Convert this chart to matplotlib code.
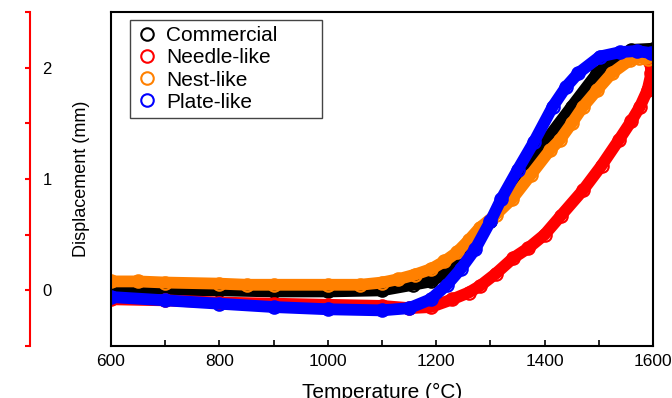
import matplotlib
matplotlib.use('Agg')
import matplotlib.pyplot as plt
from matplotlib.ticker import MultipleLocator, FixedLocator

plt.rcParams['font.family'] = ['Liberation Sans', 'DejaVu Sans']

# sample names and colours
labels = ['Commercial', 'Needle-like', 'Nest-like', 'Plate-like']
colors = ['#000000', '#ff0000', '#ff8000', '#0000ff']

# temperature (deg C) / displacement (mm)
t_comm = [600, 700, 800, 900, 1000, 1100, 1157, 1190, 1220, 1250, 1275, 1300, 1327,
          1355, 1385, 1408, 1450, 1497, 1535, 1560, 1600]
d_comm = [0.01, 0.0, 0.0, -0.01, -0.01, 0.0, 0.05, 0.08, 0.16, 0.30, 0.45, 0.62, 0.82,
          1.02, 1.24, 1.38, 1.65, 1.95, 2.10, 2.16, 2.17]

t_needle = [600, 700, 800, 900, 1000, 1100, 1150, 1190, 1230, 1260, 1281, 1310, 1342,
            1370, 1400, 1430, 1471, 1505, 1537, 1560, 1576, 1590, 1597, 1595, 1588]
d_needle = [-0.08, -0.09, -0.11, -0.12, -0.13, -0.14, -0.16, -0.15, -0.08, -0.02, 0.04, 0.15, 0.29,
            0.38, 0.50, 0.67, 0.90, 1.12, 1.35, 1.52, 1.65, 1.80, 1.95, 2.05, 2.09]

t_nest = [600, 650, 700, 800, 850, 900, 1000, 1060, 1100, 1130, 1160, 1190, 1215, 1238,
          1260, 1280, 1310, 1340, 1375, 1410, 1428, 1450, 1471, 1497, 1524, 1558, 1575, 1590]
d_nest = [0.08, 0.08, 0.07, 0.06, 0.05, 0.05, 0.05, 0.05, 0.07, 0.10, 0.14, 0.19, 0.26, 0.34,
          0.45, 0.56, 0.68, 0.82, 1.04, 1.26, 1.35, 1.50, 1.65, 1.80, 1.95, 2.07, 2.09, 2.08]

t_plate = [600, 700, 800, 900, 1000, 1100, 1150, 1190, 1220, 1245, 1272, 1300, 1320,
           1350, 1380, 1415, 1440, 1462, 1502, 1540, 1570, 1597]
d_plate = [-0.06, -0.09, -0.12, -0.15, -0.17, -0.18, -0.16, -0.08, 0.05, 0.19, 0.37, 0.62, 0.82,
           1.08, 1.33, 1.65, 1.83, 1.95, 2.10, 2.14, 2.15, 2.13]

series = [(t_comm, d_comm), (t_needle, d_needle), (t_nest, d_nest), (t_plate, d_plate)]

W, H = 672, 398
fig = plt.figure(figsize=(W / 100, H / 100), dpi=100)
ax = fig.add_axes([111 / W, 1 - 346 / H, 542 / W, 334 / H])

handles = []
for (t, d), c, lab in zip(series, colors, labels):
    # thick band, then the open circle markers
    ax.plot(t, d, color=c, lw=8.5, solid_capstyle='round', solid_joinstyle='round')
    h, = ax.plot(t, d, ls='none', marker='o', ms=9, mfc='none', mec=c, mew=1.5, label=lab)
    handles.append(h)

ax.set_xlim(600, 1600)
ax.set_ylim(-0.5, 2.5)
ax.xaxis.set_major_locator(MultipleLocator(200))
ax.xaxis.set_minor_locator(MultipleLocator(100))
ax.tick_params(axis='x', which='both', direction='in', length=4.3, width=1.2,
               top=False, labelsize=12.5, pad=6)
ax.tick_params(axis='y', which='both', left=False, labelleft=False)
for s in ax.spines.values():
    s.set_linewidth(1.5)
ax.set_xlabel('Temperature (°C)', fontsize=15, labelpad=10)

leg = ax.legend(handles=handles, loc='upper left', bbox_to_anchor=(0.035, 0.5, 0.354, 0.476),
                mode='expand', borderaxespad=0, fontsize=15, labelspacing=0.15,
                borderpad=0.3, handletextpad=0.45, handlelength=1.0, fancybox=False,
                framealpha=1)
leg.get_frame().set_edgecolor('#444444')
leg.get_frame().set_linewidth(1.0)

# detached red displacement axis on the far left
ax_r = fig.add_axes([30 / W, 1 - 346 / H, 6 / W, 334 / H])
ax_r.set_ylim(-0.5, 2.5)
ax_r.yaxis.set_major_locator(FixedLocator([0, 1, 2]))
ax_r.yaxis.set_minor_locator(FixedLocator([-0.5, 0.5, 1.5, 2.5]))
ax_r.patch.set_visible(False)
ax_r.xaxis.set_visible(False)
for k in ['top', 'right', 'bottom']:
    ax_r.spines[k].set_visible(False)
ax_r.spines['left'].set_color('red')
ax_r.spines['left'].set_linewidth(1.5)
ax_r.tick_params(axis='y', which='both', left=True, right=False, labelleft=False,
                 labelright=True, direction='out', length=3.6, width=1.5,
                 color='red', labelcolor='black', labelsize=12, pad=1)

fig.text(81.5 / W, 1 - 179 / H, 'Displacement (mm)', rotation=90, ha='center',
         va='center', fontsize=13)

fig.savefig('out.png', dpi=100)
